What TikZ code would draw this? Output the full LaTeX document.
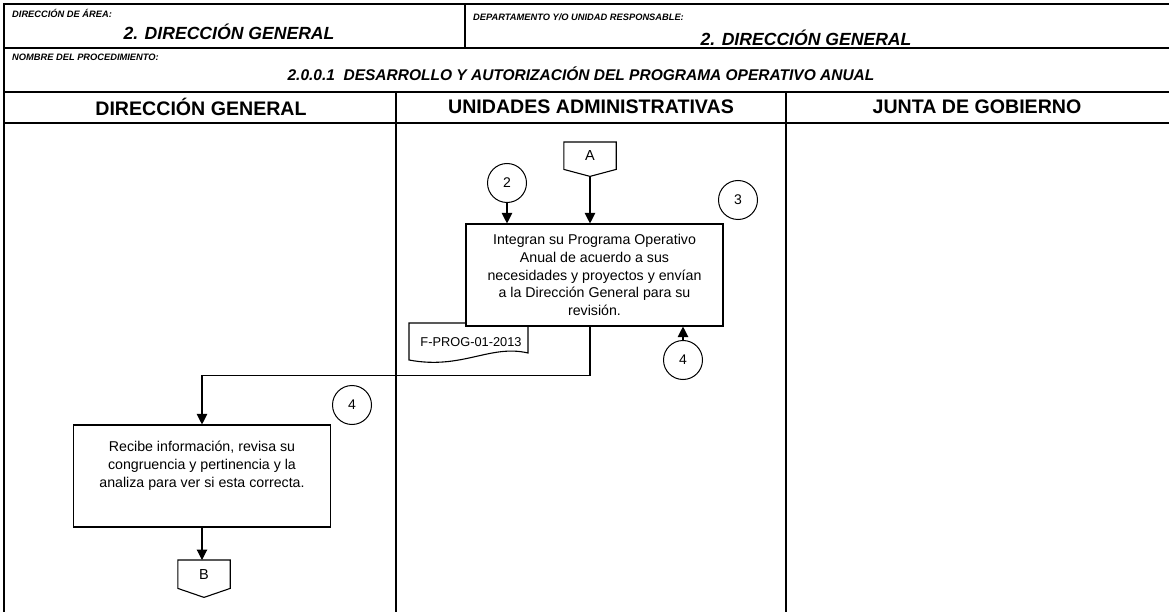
\documentclass[tikz,border=0pt]{standalone}
\usepackage{fontspec}
\setmainfont{Liberation Sans}
\usetikzlibrary{arrows.meta,calc}
\tikzset{
  frame/.style={line width=1.2pt},
  proc/.style={draw, line width=1.1pt, fill=white, minimum width=257pt, minimum height=102pt, align=center, font=\fontsize{14.2}{17.8}\selectfont, inner sep=0pt},
  conn/.style={draw, circle, line width=1pt, minimum size=39pt, inner sep=0pt, font=\fontsize{14}{16}\selectfont},
  offp/.style={minimum width=52pt, inner sep=0pt, font=\fontsize{14.5}{16}\selectfont},
  arr/.style={line width=1.1pt, -{Triangle[length=10.5pt,width=10.5pt]}},
  line/.style={line width=1.1pt},
  smalllab/.style={anchor=west, inner sep=0pt, font=\fontsize{9.3}{11}\selectfont\bfseries\itshape},
  biglab/.style={inner sep=0pt, font=\fontsize{17.6}{20}\selectfont\bfseries\itshape},
  lanehead/.style={inner sep=0pt, font=\fontsize{19.6}{22}\selectfont\bfseries},
}
\begin{document}
\begin{tikzpicture}[x=1pt,y=-1pt]
\useasboundingbox (0,0) rectangle (1169,612);
% frame
\draw[frame] (4,612) -- (4,4) -- (1169,4);
\draw[frame] (4,48) -- (1169,48);
\draw[frame] (4,92) -- (1169,92);
\draw[frame] (4,123) -- (1169,123);
\draw[frame] (465,4) -- (465,48);
\draw[frame] (396,92) -- (396,612);
\draw[frame] (786,92) -- (786,612);
% header texts
\node[smalllab] (h1) at (12,13) {DIRECCIÓN DE ÁREA:};
\node[biglab] (h2) at (229,32) {2. DIRECCIÓN GENERAL};
\node[smalllab] (h3) at (473,17) {DEPARTAMENTO Y/O UNIDAD RESPONSABLE:};
\node[biglab] (h4) at (806,38) {2. DIRECCIÓN GENERAL};
\node[smalllab] (h5) at (12,57) {NOMBRE DEL PROCEDIMIENTO:};
\node[biglab, font=\fontsize{15.5}{18}\selectfont\bfseries\itshape] (h6) at (581,74) {2.0.0.1\ \ DESARROLLO Y AUTORIZACIÓN DEL PROGRAMA OPERATIVO ANUAL};
\node[lanehead] (l1) at (201,107) {DIRECCIÓN GENERAL};
\node[lanehead] (l2) at (591,107) {UNIDADES ADMINISTRATIVAS};
\node[lanehead] (l3) at (977,107) {JUNTA DE GOBIERNO};
% document
\coordinate (dtl) at (409,323);
\filldraw[line, fill=white] (dtl) -- (528,323) -- (528,353) .. controls (490,344) and (462,370) .. (409,360) -- cycle;
\node[inner sep=0pt, font=\fontsize{12.8}{14}\selectfont] (doc) at (471,342) {F-PROG-01-2013};
% process 1
\node[proc] (p1) at (594.5,275) {Integran su Programa Operativo\\Anual de acuerdo a sus\\necesidades y proyectos y envían\\a la Dirección General para su\\revisión.};
% connector A
\node[offp, minimum height=27pt, anchor=north] (a) at (590,142) {A};
\draw[line] (a.south west) -- (a.north west) -- (a.north east) -- (a.south east) -- ($(a.south)+(0,7)$) -- cycle;
% circles
\node[conn] (c2) at (507,183) {2};
\node[conn] (c3) at (738,200) {3};
\node[conn] (c4a) at (683,360) {4};
\node[conn] (c4b) at (352,405) {4};
% process 2
\node[proc] (p2) at (202,476) {Recibe información, revisa su\\congruencia y pertinencia y la\\analiza para ver si esta correcta.\\[6pt]\mbox{}};
% connector B
\node[offp, minimum height=28pt, anchor=north] (b) at (204,560) {B};
\draw[line] (b.south west) -- (b.north west) -- (b.north east) -- (b.south east) -- ($(b.south)+(0,9)$) -- cycle;
% arrows
\draw[arr] ($(a.south)+(0,7)$) -- (a.south |- p1.north);
\draw[arr] (c2.south) -- (c2.south |- p1.north);
\draw[arr] (c4a.north) -- (c4a.north |- p1.south);
\coordinate (k1) at ($(a.south |- p1.south)+(0,49)$);
\draw[arr] (a.south |- p1.south) -- (k1) -- (k1 -| p2.north) -- (p2.north);
\draw[arr] (p2.south) -- (p2.south |- b.north);
\end{tikzpicture}
\end{document}
